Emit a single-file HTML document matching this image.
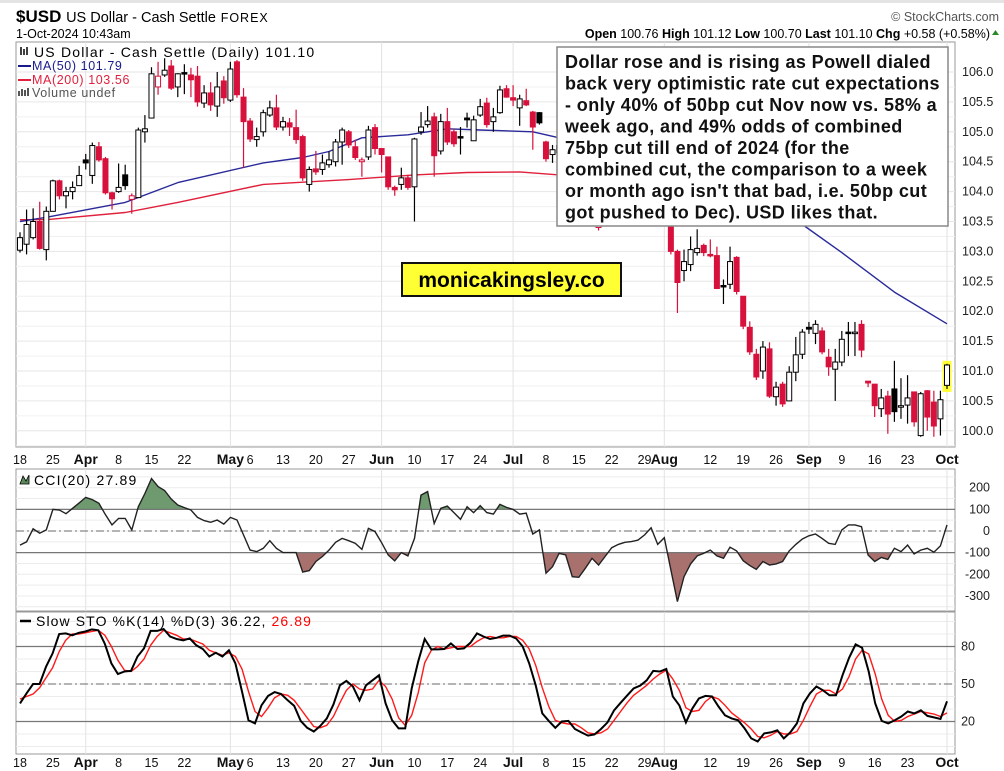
<!DOCTYPE html>
<html><head><meta charset="utf-8">
<style>
html,body{margin:0;padding:0;background:#fff;}
svg{display:block;font-family:"Liberation Sans",sans-serif;}
</style></head>
<body>
<svg id="chart" width="1004" height="771" viewBox="0 0 1004 771" xmlns="http://www.w3.org/2000/svg">
<rect x="0" y="0" width="1004" height="771" fill="#fff"/>
<rect x="0" y="0" width="1004" height="3" fill="#e4e4e4"/>
<g>
<text x="16" y="22" font-size="17" font-weight="bold" fill="#000">$USD <tspan font-weight="normal" font-size="14.5">US Dollar - Cash Settle</tspan> <tspan font-weight="normal" font-size="12.5" letter-spacing="1">FOREX</tspan></text>
<text x="16" y="38" font-size="12.5" fill="#000">1-Oct-2024 10:43am</text>
<text x="999" y="21" font-size="12.5" fill="#555" text-anchor="end">© StockCharts.com</text>
<text x="990" y="38" font-size="12.5" fill="#000" text-anchor="end"><tspan font-weight="bold">Open</tspan> 100.76 <tspan font-weight="bold">High</tspan> 101.12 <tspan font-weight="bold">Low</tspan> 100.70 <tspan font-weight="bold">Last</tspan> 101.10 <tspan font-weight="bold">Chg</tspan> +0.58 (+0.58%)</text>
<path d="M992 35 L999 35 L995.5 30 Z" fill="#2a8a2a"/>
</g>
<g id="grid"></g>
<g id="price"></g>
<g id="cci"></g>
<g id="sto"></g>
<g id="axes"></g>
<g font-size="12.5" letter-spacing="0.6">
<text x="34" y="57" fill="#000" font-size="14" letter-spacing="1.2">US Dollar - Cash Settle (Daily) 101.10</text>
<path d="M21 47 v8 M24 49 v6 M27 47 v8" stroke="#000" stroke-width="1.5"/>
<line x1="18" y1="66" x2="31" y2="66" stroke="#1a1a8c" stroke-width="2"/>
<text x="32" y="70" fill="#1a1a8c">MA(50) 101.79</text>
<line x1="18" y1="80" x2="31" y2="80" stroke="#e0203c" stroke-width="2"/>
<text x="32" y="84" fill="#e0203c">MA(200) 103.56</text>
<path d="M19 96 v-5 M22 96 v-7 M25 96 v-6 M28 96 v-8" stroke="#555" stroke-width="2"/>
<text x="32" y="97" fill="#555">Volume undef</text>
</g>
<g>
<rect x="557" y="47" width="391" height="179" fill="#fff" stroke="#888" stroke-width="1.5"/>
<text font-size="18" font-weight="bold" fill="#111" letter-spacing="0.4">
<tspan x="565" y="68">Dollar rose and is rising as Powell dialed</tspan>
<tspan x="565" y="89.5">back very optimistic rate cut expectations</tspan>
<tspan x="565" y="111">- only 40% of 50bp cut Nov now vs. 58% a</tspan>
<tspan x="565" y="132.5">week ago, and 49% odds of combined</tspan>
<tspan x="565" y="154">75bp cut till end of 2024 (for the</tspan>
<tspan x="565" y="175.5">combined cut, the comparison to a week</tspan>
<tspan x="565" y="197">or month ago isn't that bad, i.e. 50bp cut</tspan>
<tspan x="565" y="218.5">got pushed to Dec). USD likes that.</tspan>
</text>
</g>
<g>
<rect x="402" y="263" width="219" height="33" fill="#ffff33" stroke="#111" stroke-width="2"/>
<text x="511.5" y="287" font-size="21" font-weight="bold" text-anchor="middle" fill="#000">monicakingsley.co</text>
</g>
<g>
<path d="M20 484 l3 -8 l3 5 l3 -6 v9 z" fill="#5a8a5a" stroke="#000" stroke-width="0.8"/>
<text x="34" y="485" font-size="14" letter-spacing="1.2" fill="#000">CCI(20) 27.89</text>
</g>
<g>
<line x1="20" y1="621" x2="31" y2="621" stroke="#000" stroke-width="2.5"/>
<text x="36" y="626" font-size="14" letter-spacing="1.1" fill="#000">Slow STO %K(14) %D(3) 36.22, <tspan fill="#ff0000">26.89</tspan></text>
</g>
</svg>
<script>
// ---- data ----
const opens  = [103.02,103.12,103.23,103.5,103.03,103.67,104.18,103.93,104.0,104.1,104.53,104.27,104.75,104.55,103.98,104.0,104.28,103.87,103.9,105.0,105.23,105.75,105.95,106.1,105.75,105.99,105.95,105.93,105.48,105.65,105.43,105.85,105.53,106.17,105.58,105.18,104.87,105.0,105.28,105.4,105.08,105.15,105.07,104.92,104.12,104.38,104.37,104.45,104.5,104.83,105.0,104.75,104.5,104.58,105.07,104.72,104.58,104.07,104.12,104.23,104.08,105.0,105.12,105.25,104.68,105.17,105.0,104.92,105.23,104.85,105.28,105.48,105.17,105.32,105.72,105.57,105.4,105.52,105.33,105.32,104.83,104.62,104.65,104.78,104.67,104.55,104.4,104.1,103.4,103.55,104.0,104.35,104.3,104.4,104.3,104.35,104.5,104.4,104.2,103.62,103.0,102.68,102.78,102.98,103.1,102.95,102.93,102.43,102.45,102.9,102.25,101.73,101.28,101.0,101.37,100.57,100.78,100.5,100.98,101.28,101.73,101.63,101.67,101.23,101.03,101.15,101.65,101.63,101.78,100.83,100.78,100.37,100.58,100.7,100.4,100.43,100.65,99.92,100.67,100.48,100.2,100.76];
const closes = [103.23,103.45,103.5,103.05,103.67,104.18,103.93,104.0,104.07,104.27,104.48,104.77,104.53,103.98,103.88,104.07,104.1,103.93,105.03,105.05,105.97,105.93,106.03,105.73,105.97,105.975,105.87,105.5,105.65,105.45,105.75,105.57,106.05,105.62,105.17,104.88,104.92,105.32,105.4,105.08,105.17,105.08,104.87,104.23,104.37,104.33,104.48,104.53,104.83,105.03,104.78,104.57,104.53,105.03,104.72,104.62,104.08,104.03,104.23,104.07,104.88,105.08,105.18,104.6,105.17,104.83,104.8,104.9,105.2,105.2,105.42,105.12,105.25,105.7,105.58,105.53,105.55,105.45,105.08,105.15,104.55,104.7,104.77,104.67,104.55,104.4,104.1,103.75,103.5,104.0,104.35,104.3,104.4,104.3,104.35,104.5,104.4,104.2,104.35,103.0,102.48,102.83,103.03,103.05,102.98,102.93,102.38,102.42,102.83,102.33,101.75,101.32,100.9,101.4,100.58,100.73,100.45,100.98,101.27,101.65,101.7,101.78,101.32,101.07,101.15,101.53,101.63,101.65,101.35,100.8,100.42,100.55,100.28,100.32,100.42,100.55,100.15,100.62,100.23,100.08,100.52,101.1];
const highs  = [103.32,103.7,103.72,103.83,103.75,104.2,104.2,104.08,104.17,104.43,104.63,104.82,104.83,104.58,104.0,104.47,104.45,103.97,105.07,105.28,106.08,106.17,106.23,106.2,105.98,106.13,106.07,106.1,105.78,105.83,106.0,105.93,106.17,106.2,105.73,105.23,105.07,105.37,105.52,105.62,105.25,105.23,105.37,104.95,104.42,104.68,104.62,104.67,104.88,105.07,105.03,104.87,104.57,105.1,105.13,104.72,104.58,104.1,104.4,104.28,104.9,105.33,105.43,105.32,105.3,105.4,105.05,105.08,105.32,105.27,105.55,105.57,105.4,105.77,105.78,105.78,105.62,105.72,105.35,105.33,104.85,104.78,104.88,104.9,104.75,104.6,104.45,104.15,103.85,104.1,104.45,104.45,104.5,104.5,104.45,104.6,104.55,104.5,104.45,103.87,103.03,103.03,103.25,103.37,103.13,103.2,103.08,102.53,103.08,102.92,102.25,101.83,101.37,101.5,101.48,100.82,100.82,101.08,101.57,101.7,101.82,101.85,101.73,101.37,101.37,101.67,101.82,101.82,101.85,100.83,100.78,100.7,100.67,101.17,100.88,100.93,100.65,100.65,100.68,100.67,100.67,101.12];
const lows   = [102.98,102.95,103.2,103.03,102.85,103.67,103.87,103.72,103.87,104.1,104.37,104.13,104.5,103.95,103.7,103.98,104.03,103.63,103.9,104.82,105.23,105.62,105.92,105.7,105.58,105.63,105.58,105.42,105.4,105.35,105.25,105.47,105.5,105.57,104.4,104.83,104.75,104.92,105.25,105.03,105.02,104.93,104.8,104.18,104.0,104.28,104.28,104.4,104.42,104.45,104.73,104.53,104.25,104.53,104.62,104.32,104.03,103.93,104.03,104.03,103.5,104.95,105.07,104.25,104.62,104.78,104.75,104.62,105.07,104.85,105.25,105.07,105.0,105.3,105.57,105.43,105.1,105.43,104.7,105.12,104.5,104.48,104.58,104.6,104.45,104.3,104.0,103.5,103.35,103.5,103.95,104.15,104.2,104.2,104.2,104.25,104.3,104.1,104.0,102.95,101.97,102.5,102.67,102.93,102.92,102.9,102.37,102.12,102.37,102.28,101.7,101.27,100.85,100.87,100.55,100.42,100.4,100.5,100.83,101.2,101.62,101.45,101.28,100.92,100.5,101.08,101.25,101.25,101.23,100.73,100.23,100.23,99.95,100.15,100.2,100.12,100.07,99.9,100.0,99.9,99.92,100.7];
const ma50Idx = [0,4,16,24,37,43,47,52,59,65,70,78,82,90,100,105,112,119,125,133,141];
const ma50Val = [103.5,103.57,103.82,104.15,104.48,104.57,104.67,104.9,104.95,105.05,105.03,105.0,104.9,104.8,104.4,104.2,103.8,103.45,102.98,102.32,101.79];
const ma200Idx = [0,4,16,24,37,50,60,68,76,82,100,120,141];
const ma200Val = [103.53,103.53,103.65,103.82,104.12,104.2,104.28,104.32,104.33,104.28,104.15,103.85,103.56];
const cciVals = [-65,-50,10,-10,5,100,97,80,105,130,155,145,128,75,28,58,58,5,112,173,242,205,187,148,120,108,97,63,48,40,51,32,63,51,-18,-88,-95,-80,-45,-80,-100,-100,-100,-190,-183,-141,-118,-88,-52,-34,-45,-57,-85,12,-3,-54,-111,-138,-100,-115,-34,166,182,35,105,115,85,54,112,85,117,85,78,123,109,100,78,82,-14,5,-195,-165,-103,-111,-211,-214,-172,-126,-157,-118,-77,-62,-52,-49,-42,-18,15,-62,-31,-180,-326,-211,-152,-115,-103,-88,-115,-126,-75,-92,-137,-160,-177,-141,-157,-152,-141,-92,-62,-37,-22,-14,-34,-57,-62,5,28,28,20,-111,-141,-122,-131,-80,-95,-65,-106,-88,-80,-98,-69,28];
const stoK = [34.5,42.5,50,50,64,74.5,90,90.5,89,91,92,93.7,93,82,66.5,58,60,60.5,72,78.5,92.5,92.5,94,88,86,85,86.5,81,78,72,75,72,77,66.5,44,21,18.5,33,40.5,43.5,42,37,32.5,20.5,15,12,16.5,22.5,33.5,49,52.5,48,37,49,53,57,34.5,21,14.5,14.5,46.5,68,86,77.7,77.7,78,82.5,78,78.5,83,90.5,88,86,87,88.7,88.7,86.5,80,66.5,49,26.5,20.5,15,20,20.5,14,11.3,8.7,9.7,14,19.3,29,35,40.7,46.5,48.7,53,60.5,60,62,40,33,19.3,30.5,38.5,40.5,40,32,25,22.5,21,14.5,6.5,4,10.5,11.3,13,6.5,11.3,18.5,34.5,42.5,48,45,41,41,57,71,81.7,79,60,34.5,20.5,18.5,21,24,28,26.5,29,24.5,23.3,22,36.2];
const stoD = [38,40,42,47,55,63,76,85,90,90,91,92,93,89,80,69,61,60,64,70,81,88,93,91,89,86,86,84,82,77,75,73,75,72,62,44,28,24,31,39,42,41,37,30,23,16,15,17,24,35,45,50,46,45,46,53,48,38,23,17,25,43,67,77,80,78,79,80,80,80,84,87,88,87,87,88,88,85,78,65,47,32,21,19,18,18,15,11,10,11,14,21,28,35,41,45,49,54,58,61,54,45,31,28,29,36,40,38,33,27,23,19,14,8,7,9,12,10,10,12,21,32,42,45,45,42,46,56,70,77,74,58,38,25,20,21,24,26,28,27,26,24,26.9];
const priceTicks = [106.0,105.5,105.0,104.5,104.0,103.5,103.0,102.5,102.0,101.5,101.0,100.5,100.0];
const cciTicks = [200,100,0,-100,-200,-300];
const stoTicks = [80,50,20];
const dateIdx = [0,5,10,15,20,25,32,35,40,45,50,55,60,65,70,75,80,85,90,95,98,105,110,115,120,125,130,135,141];
const dateLabels = ["18","25","Apr","8","15","22","May","6","13","20","27","Jun","10","17","24","Jul","8","15","22","29","Aug","12","19","26","Sep","9","16","23","Oct"];
const monthIdx = [10,32,55,75,98,120,141];

// ---- geometry ----
const NS="http://www.w3.org/2000/svg";
const L=16,R=955,X0=20,X1=947;
const xs=(i,n)=>X0+i*(X1-X0)/(n-1);
const py=p=>72+(106-p)*59.8;
const cy=v=>531-v*0.2165;
const sy=v=>684-(v-50)*1.25;
const P={top:42,bot:447},C={top:469,bot:611},S={top:612,bot:754};
function mk(tag,attrs,parent){const e=document.createElementNS(NS,tag);for(const k in attrs)e.setAttribute(k,attrs[k]);parent.appendChild(e);return e;}
const grid=document.getElementById('grid'),axes=document.getElementById('axes');

[[P,'price-panel'],[C,'cci-panel'],[S,'sto-panel']].forEach(([p,nm])=>{
  const r=mk('rect',{x:L,y:p.top,width:R-L,height:p.bot-p.top,fill:'#fff',stroke:'#999','stroke-width':1},grid);
  
  
});
priceTicks.forEach(t=>{
  mk('line',{x1:L,x2:R,y1:py(t),y2:py(t),stroke:'#e6e6e6'},grid);
  mk('line',{x1:L,x2:R,y1:py(t)+15,y2:py(t)+15,stroke:'#f0f0f0'},grid);
  const tx=mk('text',{x:962,y:py(t)+4,'font-size':12.5,fill:'#222'},axes);
  tx.textContent=t.toFixed(1);
  
  
});
for(let v=-350;v<=250;v+=50){mk('line',{x1:L,x2:R,y1:cy(v),y2:cy(v),stroke:'#ececec'},grid);}
cciTicks.forEach(t=>{
  const tx=mk('text',{x:990,y:cy(t)+4,'font-size':12.5,fill:'#222','text-anchor':'end'},axes);
  tx.textContent=t;
  
  
});
for(let v=0;v<=100;v+=10){if(sy(v)>S.top&&sy(v)<S.bot)mk('line',{x1:L,x2:R,y1:sy(v),y2:sy(v),stroke:'#ececec'},grid);}
stoTicks.forEach(t=>{
  const tx=mk('text',{x:975,y:sy(t)+4,'font-size':12.5,fill:'#222','text-anchor':'end'},axes);
  tx.textContent=t;
  
  
});
monthIdx.forEach(i=>{const x=xs(i,closes.length);[P,C,S].forEach(p=>mk('line',{x1:x,x2:x,y1:p.top,y2:p.bot,stroke:'#e2e2e2'},grid));});
[464,767].forEach(yy=>{
  dateIdx.forEach((i,k)=>{
    const bold=isNaN(+dateLabels[k]);
    const tx=mk('text',{x:xs(i,closes.length),y:yy,'font-size':bold?14:12.5,'font-weight':bold?'bold':'normal','text-anchor':'middle',fill:'#111'},axes);
    tx.textContent=dateLabels[k];
    
    
  });
});

// ---- price ----
const pg=document.getElementById('price');
function maLine(idx,val,col,nm){
  const d=idx.map((i,k)=>(k?'L':'M')+xs(i,closes.length).toFixed(1)+' '+py(val[k]).toFixed(1)).join(' ');
  const e=mk('path',{d:d,fill:'none',stroke:col,'stroke-width':1.4,'stroke-linejoin':'round'},pg);
  
  
}
maLine(ma200Idx,ma200Val,'#e0203c','ma200-line');
maLine(ma50Idx,ma50Val,'#2a2a9a','ma50-line');
const n=closes.length;
for(let i=0;i<n;i++){
  const x=xs(i,n),o=opens[i],c=closes[i];
  const col=(i>0&&c<closes[i-1])?'#d8103c':'#000';
  const filled=c<o;
  const g=mk('g',{},pg);
  
  
  if(i===n-1){mk('rect',{x:x-4.5,y:py(highs[i])-3,width:9,height:py(lows[i])-py(highs[i])+6,fill:'#ffff33'},g);}
  mk('line',{x1:x,x2:x,y1:py(highs[i]),y2:py(lows[i]),stroke:col,'stroke-width':1.2},g);
  const top=py(Math.max(o,c)),h=Math.max(1.5,Math.abs(py(o)-py(c)));
  mk('rect',{x:x-2.5,y:top,width:5,height:h,fill:filled?col:'#fff',stroke:col,'stroke-width':1},g);
}

// ---- CCI ----
const cg=document.getElementById('cci');
const defs=mk('defs',{},cg);
const c1=mk('clipPath',{id:'abv'},defs);mk('rect',{x:0,y:0,width:1004,height:cy(100)},c1);
const c2=mk('clipPath',{id:'blw'},defs);mk('rect',{x:0,y:cy(-100),width:1004,height:300},c2);
const cn=cciVals.length;
const cpts=cciVals.map((v,i)=>xs(i,cn).toFixed(1)+' '+cy(v).toFixed(1));
const fa=mk('path',{d:'M'+X0+' '+cy(100)+' L'+cpts.join(' L')+' L'+X1+' '+cy(100)+'Z',fill:'#6f9a6f','clip-path':'url(#abv)'},cg);


const fb=mk('path',{d:'M'+X0+' '+cy(-100)+' L'+cpts.join(' L')+' L'+X1+' '+cy(-100)+'Z',fill:'#a8716e','clip-path':'url(#blw)'},cg);


mk('line',{x1:L,x2:R,y1:cy(100),y2:cy(100),stroke:'#777','stroke-width':1.2},cg);
mk('line',{x1:L,x2:R,y1:cy(-100),y2:cy(-100),stroke:'#777','stroke-width':1.2},cg);
mk('line',{x1:L,x2:R,y1:cy(0),y2:cy(0),stroke:'#888','stroke-width':1.2,'stroke-dasharray':'8 3 2 3'},cg);
const cl=mk('path',{d:'M'+cpts.join(' L'),fill:'none',stroke:'#222','stroke-width':1.4},cg);



// ---- STO ----
const sg=document.getElementById('sto');
mk('line',{x1:L,x2:R,y1:sy(80),y2:sy(80),stroke:'#777','stroke-width':1.2},sg);
mk('line',{x1:L,x2:R,y1:sy(20),y2:sy(20),stroke:'#777','stroke-width':1.2},sg);
mk('line',{x1:L,x2:R,y1:sy(50),y2:sy(50),stroke:'#888','stroke-width':1.2,'stroke-dasharray':'8 3 2 3'},sg);
function sline(arr,col,w,nm){
  const m=arr.length;
  const e=mk('path',{d:'M'+arr.map((v,i)=>xs(i,m).toFixed(1)+' '+sy(v).toFixed(1)).join(' L'),fill:'none',stroke:col,'stroke-width':w},sg);
  
  
}
sline(stoD,'#ff1a1a',1.4,'sto-d-line');
sline(stoK,'#000',2,'sto-k-line');
</script>
</body></html>
